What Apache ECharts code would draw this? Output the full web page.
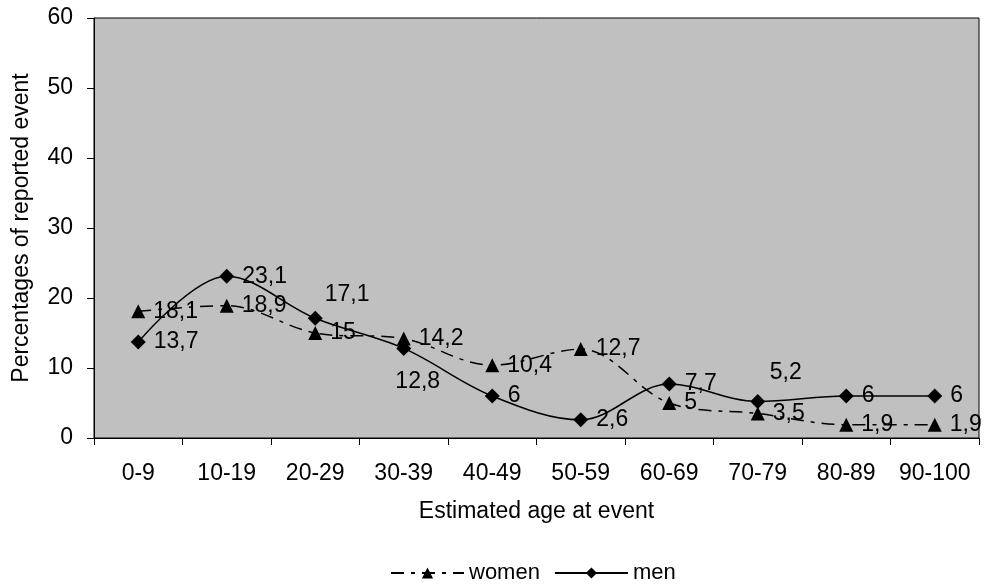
<!DOCTYPE html>
<html>
<head>
<meta charset="utf-8">
<script src="https://cdn.jsdelivr.net/npm/echarts@6/dist/echarts.min.js"></script>
<style>
  html, body { margin: 0; padding: 0; background: #ffffff; }
  #chart { width: 986px; height: 587px; }
</style>
</head>
<body>
<div id="chart"></div>
<script>
// Age bands on the category axis
const ageGroups = ['0-9', '10-19', '20-29', '30-39', '40-49', '50-59', '60-69', '70-79', '80-89', '90-100'];
// Percentages of reported events per age band
const women = [18.1, 18.9, 15, 14.2, 10.4, 12.7, 5, 3.5, 1.9, 1.9];
const men = [13.7, 23.1, 17.1, 12.8, 6, 2.6, 7.7, 5.2, 6, 6];
// Where each men's value label sits relative to its marker
const menLabelPos = ['right', 'right', 'aboveRight', 'below', 'right', 'right', 'right', 'above', 'right', 'right'];

const FONT = 'Liberation Sans, Arial, sans-serif';
const FS = 23;
const fmt = v => String(v).replace('.', ',');

function labelFor(pos) {
  if (pos === 'aboveRight') return { position: 'right', offset: [-6, -24] };
  if (pos === 'above') return { position: 'top', offset: [28, -2] };
  if (pos === 'below') return { position: 'bottom', offset: [14, 6] };
  return { position: 'right' };
}

const chart = echarts.init(document.getElementById('chart'));
chart.setOption({
  animation: false,
  textStyle: { fontFamily: FONT },
  grid: {
    left: 94, top: 18, right: 7, bottom: 149,
    show: true, backgroundColor: '#c0c0c0', borderColor: '#000', borderWidth: 1
  },
  legend: {
    top: 557,
    left: 385,
    itemWidth: 73,
    itemHeight: 14,
    itemGap: 14,
    textStyle: { fontSize: 22, color: '#000', fontFamily: FONT },
    data: ['women', 'men']
  },
  xAxis: {
    type: 'category',
    data: ageGroups,
    boundaryGap: true,
    name: 'Estimated age at event',
    nameLocation: 'middle',
    nameGap: 62,
    nameTextStyle: { fontSize: FS, color: '#000', fontFamily: FONT },
    axisLine: { lineStyle: { color: '#000', width: 1 } },
    axisTick: { show: true, alignWithLabel: false, interval: 0, length: 7, lineStyle: { color: '#000' } },
    axisLabel: { fontSize: FS, color: '#000', margin: 24, interval: 0, fontFamily: FONT }
  },
  yAxis: {
    type: 'value',
    min: 0, max: 60, interval: 10,
    name: 'Percentages of reported event',
    nameLocation: 'middle',
    nameGap: 61,
    nameTextStyle: { fontSize: FS, color: '#000', fontFamily: FONT },
    axisLine: { show: true, lineStyle: { color: '#000', width: 1 } },
    axisTick: { show: true, length: 7, lineStyle: { color: '#000' } },
    axisLabel: { fontSize: FS, color: '#000', margin: 21, fontFamily: FONT },
    splitLine: { show: false }
  },
  series: [
    {
      name: 'women',
      type: 'line',
      smooth: 0.35,
      data: women,
      symbol: 'triangle',
      symbolSize: 14,
      itemStyle: { color: '#000' },
      lineStyle: { color: '#000', width: 1.5, type: [13, 7, 4, 7] },
      label: {
        show: true, position: 'right', distance: 8,
        fontSize: FS, color: '#000', fontFamily: FONT,
        formatter: p => fmt(p.value)
      },
      z: 2
    },
    {
      name: 'men',
      type: 'line',
      smooth: 0.35,
      data: men.map((v, i) => ({ value: v, label: labelFor(menLabelPos[i]) })),
      symbol: 'diamond',
      symbolSize: 15,
      itemStyle: { color: '#000' },
      lineStyle: { color: '#000', width: 1.5 },
      label: {
        show: true, position: 'right', distance: 8,
        fontSize: FS, color: '#000', fontFamily: FONT,
        formatter: p => fmt(p.value)
      },
      z: 3
    }
  ]
});
</script>
</body>
</html>
